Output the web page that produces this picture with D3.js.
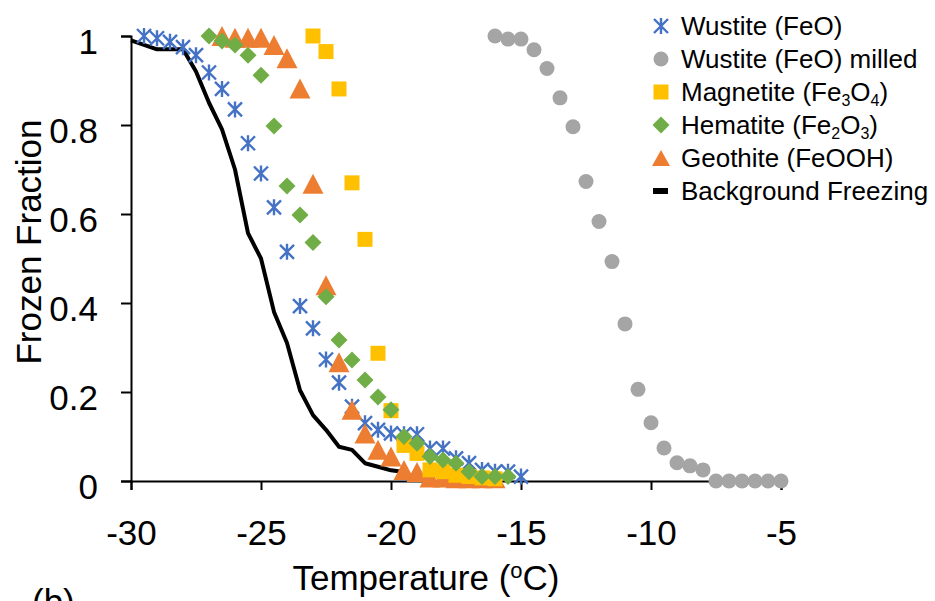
<!DOCTYPE html>
<html>
<head>
<meta charset="utf-8">
<script src="https://cdn.jsdelivr.net/npm/d3@7/dist/d3.min.js"></script>
<style>
  body { margin: 0; background: #fff; }
  svg { font-family: "Liberation Sans", Arial, sans-serif; }
</style>
</head>
<body>
<div id="chart"></div>
<script>
// data (temperature in oC, frozen fraction)
var wustiteT = [-29.5, -29, -28.5, -28, -27.5, -27, -26.5, -26, -25.5, -25, -24.5, -24, -23.5, -23, -22.5,
    -22, -21.5, -21, -20.5, -20, -19.5, -19, -18.5, -18, -17.5, -17, -16.5, -16, -15.5, -15];
var wustiteF = [1.0, 0.995, 0.987, 0.975, 0.957, 0.918, 0.881, 0.835, 0.759, 0.691, 0.615, 0.515, 0.393, 0.343, 0.273,
    0.221, 0.167, 0.130, 0.115, 0.107, 0.105, 0.105, 0.073, 0.073, 0.051, 0.040, 0.025, 0.021, 0.021, 0.010];

var milledT = [-16, -15.5, -15, -14.5, -14, -13.5, -13, -12.5, -12, -11.5, -11, -10.5, -10, -9.5, -9, -8.5,
    -8, -7.5, -7, -6.5, -6, -5.5, -5];
var milledF = [1.0, 0.993, 0.993, 0.969, 0.927, 0.861, 0.796, 0.673, 0.583, 0.493, 0.353, 0.206, 0.131, 0.074, 0.041, 0.034,
    0.025, 0, 0, 0, 0, 0, 0];

var magnetiteT = [-23, -22.5, -22, -21.5, -21, -20.5, -20, -19.5, -19, -18.5, -18, -17.5, -17, -16.5, -16];
var magnetiteF = [1.0, 0.965, 0.881, 0.670, 0.543, 0.287, 0.158, 0.080, 0.062, 0.025, 0.021, 0.013, 0.010, 0.007, 0.005];

var hematiteT = [-27, -26.5, -26, -25.5, -25, -24.5, -24, -23.5, -23, -22.5, -22, -21.5, -21, -20.5, -20, -19.5,
    -19, -18.5, -18, -17.5, -17, -16.5, -16, -15.5];
var hematiteF = [1.0, 0.989, 0.98, 0.957, 0.912, 0.798, 0.663, 0.598, 0.536, 0.414, 0.317, 0.272, 0.227, 0.189, 0.160, 0.100,
    0.085, 0.055, 0.047, 0.040, 0.021, 0.010, 0.010, 0.010];

var geothiteT = [-26.5, -26, -25.5, -25, -24.5, -24, -23.5, -23, -22.5, -22, -21.5, -21, -20.5, -20, -19.5, -19,
    -18.5, -18, -17.5, -17, -16.5, -16];
var geothiteF = [1.0, 0.996, 0.996, 0.996, 0.98, 0.95, 0.882, 0.668, 0.44, 0.267, 0.16, 0.107, 0.07, 0.055, 0.025, 0.02,
    0.008, 0.008, 0.006, 0.006, 0.006, 0.006];

var backgroundT = [-30, -29.5, -29, -28.5, -28, -27.5, -27, -26.5, -26, -25.5, -25, -24.5, -24, -23.5, -23, -22.5,
    -22, -21.5, -21, -20.5, -20, -19.5];
var backgroundF = [0.99, 0.98, 0.97, 0.97, 0.97, 0.92, 0.85, 0.79, 0.70, 0.557, 0.50, 0.38, 0.31, 0.204, 0.148, 0.115,
    0.077, 0.07, 0.04, 0.032, 0.024, 0.02];

var xTicks = [-30, -25, -20, -15, -10, -5];
var yTicks = [0, 0.2, 0.4, 0.6, 0.8, 1];

var w = 935,
    h = 601;

function zip(t, f) {
    return t.map(function(d, i) { return { t: d, f: f[i] }; });
}

var svg = d3.select("#chart").append("svg")
    .attr("width", w)
    .attr("height", h);

var x = d3.scaleLinear().domain([-30, -5]).range([131, 781]);
var y = d3.scaleLinear().domain([0, 1]).range([481, 36]);

// axes (plain hyphen for negatives, like the original)
var xAxis = d3.axisBottom(x)
    .tickValues(xTicks)
    .tickSize(9)
    .tickFormat(function(d) { return String(d); });

var yAxis = d3.axisLeft(y)
    .tickValues(yTicks)
    .tickSize(10)
    .tickFormat(function(d) { return d == 0 || d == 1 ? String(d) : d.toFixed(1); });

var gx = svg.append("g")
    .attr("transform", "translate(0," + y(0) + ")")
    .call(xAxis);
var gy = svg.append("g")
    .attr("transform", "translate(" + x(-30) + ",0)")
    .call(yAxis);

[gx, gy].forEach(function(g) {
    g.select(".domain").attr("stroke", "#000").attr("stroke-width", 2);
    g.selectAll(".tick line").attr("stroke", "#000").attr("stroke-width", 2);
    g.selectAll(".tick text")
        .attr("fill", "#000")
        .style("font-family", "'Liberation Sans', Arial, sans-serif")
        .style("font-size", "35px");
});
gx.selectAll(".tick text").attr("dy", "0.71em").attr("y", 39);
gy.selectAll(".tick text").attr("dy", "0.5em").attr("x", -33);

// axis titles
svg.append("text")
    .attr("x", 426)
    .attr("y", 590)
    .attr("text-anchor", "middle")
    .style("font-size", "35px")
    .html("Temperature (<tspan dy='-12' font-size='22px'>o</tspan><tspan dy='12'>C)</tspan>");

svg.append("text")
    .attr("transform", "translate(41,242) rotate(-90)")
    .attr("text-anchor", "middle")
    .style("font-size", "35px")
    .text("Frozen Fraction");

// panel label, cut by the bottom edge as in the original
svg.append("text")
    .attr("x", 32)
    .attr("y", 614)
    .style("font-size", "35px")
    .text("(b)");

// series
var line = d3.line()
    .x(function(d) { return x(d.t); })
    .y(function(d) { return y(d.f); });

svg.append("path")
    .datum(zip(backgroundT, backgroundF))
    .attr("d", line)
    .attr("fill", "none")
    .attr("stroke", "#000")
    .attr("stroke-width", 4)
    .attr("stroke-linejoin", "round");

var starPath = "M0,-8L0,8M-7,-7L7,7M-7,7L7,-7";
var triPath = "M0,-10L10.5,10L-10.5,10Z";
var diaPath = "M0,-8.5L8.5,0L0,8.5L-8.5,0Z";

svg.append("g").selectAll("circle")
    .data(zip(milledT, milledF))
    .enter().append("circle")
    .attr("cx", function(d) { return x(d.t); })
    .attr("cy", function(d) { return y(d.f); })
    .attr("r", 7.5)
    .attr("fill", "#A5A5A5");

svg.append("g").selectAll("path")
    .data(zip(wustiteT, wustiteF))
    .enter().append("path")
    .attr("transform", function(d) { return "translate(" + x(d.t) + "," + y(d.f) + ")"; })
    .attr("d", starPath)
    .attr("stroke", "#4472C4")
    .attr("stroke-width", 2.4)
    .attr("fill", "none");

svg.append("g").selectAll("path")
    .data(zip(geothiteT, geothiteF))
    .enter().append("path")
    .attr("transform", function(d) { return "translate(" + x(d.t) + "," + y(d.f) + ")"; })
    .attr("d", triPath)
    .attr("fill", "#ED7D31");

svg.append("g").selectAll("rect")
    .data(zip(magnetiteT, magnetiteF))
    .enter().append("rect")
    .attr("x", function(d) { return x(d.t) - 7.5; })
    .attr("y", function(d) { return y(d.f) - 7.5; })
    .attr("width", 15)
    .attr("height", 15)
    .attr("fill", "#FFC000");

svg.append("g").selectAll("path")
    .data(zip(hematiteT, hematiteF))
    .enter().append("path")
    .attr("transform", function(d) { return "translate(" + x(d.t) + "," + y(d.f) + ")"; })
    .attr("d", diaPath)
    .attr("fill", "#70AD47");

// legend
var legend = svg.append("g").attr("class", "legend");
var items = [
    { label: "Wustite (FeO)", kind: "star" },
    { label: "Wustite (FeO) milled", kind: "circle" },
    { label: "Magnetite (Fe<tspan dy='5' font-size='16px'>3</tspan><tspan dy='-5'>O</tspan><tspan dy='5' font-size='16px'>4</tspan><tspan dy='-5'>)</tspan>", kind: "square" },
    { label: "Hematite (Fe<tspan dy='5' font-size='16px'>2</tspan><tspan dy='-5'>O</tspan><tspan dy='5' font-size='16px'>3</tspan><tspan dy='-5'>)</tspan>", kind: "diamond" },
    { label: "Geothite (FeOOH)", kind: "triangle" },
    { label: "Background Freezing", kind: "line" }
];

items.forEach(function(it, i) {
    var cy = 26 + i * 33;
    var g = legend.append("g").attr("transform", "translate(661," + cy + ")");
    if (it.kind == "star") {
        g.append("path").attr("d", starPath).attr("stroke", "#4472C4").attr("stroke-width", 2.4).attr("fill", "none");
    } else if (it.kind == "circle") {
        g.append("circle").attr("r", 7.5).attr("fill", "#A5A5A5");
    } else if (it.kind == "square") {
        g.append("rect").attr("x", -7.5).attr("y", -7.5).attr("width", 15).attr("height", 15).attr("fill", "#FFC000");
    } else if (it.kind == "diamond") {
        g.append("path").attr("d", diaPath).attr("fill", "#70AD47");
    } else if (it.kind == "triangle") {
        g.append("path").attr("d", "M0,-8L9,8L-9,8Z").attr("fill", "#ED7D31");
    } else {
        g.append("rect").attr("x", -8).attr("y", -3).attr("width", 15).attr("height", 6).attr("fill", "#000");
    }
    legend.append("text")
        .attr("x", 681)
        .attr("y", cy + 9)
        .style("font-size", "26px")
        .html(it.label);
});
</script>
</body>
</html>
